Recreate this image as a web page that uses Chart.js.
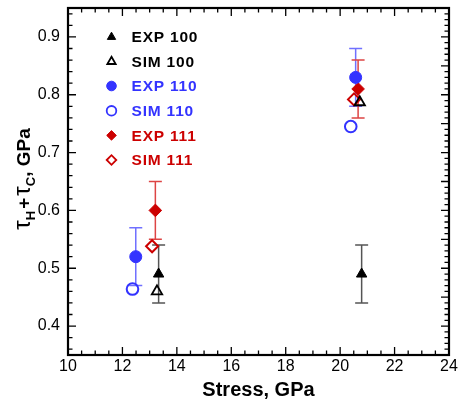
<!DOCTYPE html>
<html>
<head>
<meta charset="utf-8">
<script src="https://cdn.jsdelivr.net/npm/chart.js@4.4.0/dist/chart.umd.min.js"></script>
<style>
  html, body { margin: 0; padding: 0; background: #fff; }
  #wrap { width: 458px; height: 404px; position: relative; }
</style>
</head>
<body>
<div id="wrap"><canvas id="c" width="458" height="404"></canvas></div>
<script>
// Axis tick labels
const xTicks = [10, 12, 14, 16, 18, 20, 22, 24];
const yTicks = [0.4, 0.5, 0.6, 0.7, 0.8, 0.9];

// Series names
const seriesNames = ['EXP 100', 'SIM 100', 'EXP 110', 'SIM 110', 'EXP 111', 'SIM 111'];

// Stress (GPa) and tau_H + tau_C (GPa) per series
const exp100Stress = [13.33, 20.79];
const exp100Tau    = [0.49, 0.49];
const exp100Low    = [0.44, 0.44];
const exp100High   = [0.54, 0.54];

const sim100Stress = [13.27, 20.72];
const sim100Tau    = [0.46, 0.787];

const exp110Stress = [12.49, 20.57];
const exp110Tau    = [0.52, 0.83];
const exp110Low    = [0.47, 0.78];
const exp110High   = [0.57, 0.88];

const sim110Stress = [12.37, 20.39];
const sim110Tau    = [0.464, 0.745];

const exp111Stress = [13.21, 20.66];
const exp111Tau    = [0.60, 0.81];
const exp111Low    = [0.55, 0.76];
const exp111High   = [0.65, 0.86];

const sim111Stress = [13.09, 20.51];
const sim111Tau    = [0.538, 0.792];

const BLACK = '#000000';
const BLUE = '#3333ff';
const RED = '#cc0000';

function pts(xs, ys, lo, hi) {
  return xs.map((x, i) => {
    const p = { x: x, y: ys[i] };
    if (lo) { p.lo = lo[i]; p.hi = hi[i]; }
    return p;
  });
}

const TRANSPARENT = 'rgba(0,0,0,0)';

const datasets = [
  { label: seriesNames[0], data: pts(exp100Stress, exp100Tau, exp100Low, exp100High),
    pointStyle: 'triangle', pointRadius: 6, backgroundColor: BLACK, borderColor: BLACK, pointBorderWidth: 1,
    errColor: '#555555' },
  { label: seriesNames[1], data: pts(sim100Stress, sim100Tau),
    pointStyle: 'triangle', pointRadius: 6, backgroundColor: TRANSPARENT, borderColor: BLACK, pointBorderWidth: 1.8 },
  { label: seriesNames[2], data: pts(exp110Stress, exp110Tau, exp110Low, exp110High),
    pointStyle: 'circle', pointRadius: 6, backgroundColor: BLUE, borderColor: BLUE, pointBorderWidth: 1,
    errColor: '#7070ff' },
  { label: seriesNames[3], data: pts(sim110Stress, sim110Tau),
    pointStyle: 'circle', pointRadius: 5.8, backgroundColor: TRANSPARENT, borderColor: BLUE, pointBorderWidth: 2 },
  { label: seriesNames[4], data: pts(exp111Stress, exp111Tau, exp111Low, exp111High),
    pointStyle: 'rectRot', pointRadius: 6.3, backgroundColor: RED, borderColor: RED, pointBorderWidth: 1,
    errColor: '#dd4444' },
  { label: seriesNames[5], data: pts(sim111Stress, sim111Tau),
    pointStyle: 'rectRot', pointRadius: 6, backgroundColor: TRANSPARENT, borderColor: RED, pointBorderWidth: 2 }
];
datasets.forEach(d => { d.showLine = false; d.pointHoverRadius = d.pointRadius; });

// Vertical error bars with caps, drawn under the markers
const errorBars = {
  id: 'errorBars',
  beforeDatasetsDraw(chart) {
    const ctx = chart.ctx;
    const xs = chart.scales.x, ys = chart.scales.y;
    ctx.save();
    ctx.lineWidth = 1.5;
    chart.data.datasets.forEach(ds => {
      if (!ds.errColor) return;
      ctx.strokeStyle = ds.errColor;
      ds.data.forEach(p => {
        const px = xs.getPixelForValue(p.x);
        const y1 = ys.getPixelForValue(p.lo);
        const y2 = ys.getPixelForValue(p.hi);
        const cap = 6.5;
        ctx.beginPath();
        ctx.moveTo(px, y1); ctx.lineTo(px, y2);
        ctx.moveTo(px - cap, y1); ctx.lineTo(px + cap, y1);
        ctx.moveTo(px - cap, y2); ctx.lineTo(px + cap, y2);
        ctx.stroke();
      });
    });
    ctx.restore();
  }
};

// Box frame with inward ticks on all four sides
const frame = {
  id: 'frame',
  afterDatasetsDraw(chart) {
    const ctx = chart.ctx;
    const a = chart.chartArea;
    const xs = chart.scales.x, ys = chart.scales.y;
    const MAJ = 8, MIN = 4.5;
    const isMajor = (v, step) => Math.abs(v / step - Math.round(v / step)) < 1e-6;
    ctx.save();
    ctx.strokeStyle = '#000';
    ctx.lineWidth = 1.3;
    ctx.beginPath();
    // bottom and top: minor every 0.5, major every 2
    for (let i = 0; i <= 28; i++) {
      const v = 10 + i * 0.5;
      const px = xs.getPixelForValue(v);
      const len = isMajor(v, 2) ? MAJ : MIN;
      ctx.moveTo(px, a.bottom); ctx.lineTo(px, a.bottom - len);
      ctx.moveTo(px, a.top); ctx.lineTo(px, a.top + len);
    }
    // left: minor every 0.02, major every 0.1
    for (let i = 0; i <= 30; i++) {
      const v = 0.36 + i * 0.02;
      if (v > 0.951) break;
      const py = ys.getPixelForValue(v);
      const len = isMajor(v, 0.1) ? MAJ : MIN;
      ctx.moveTo(a.left, py); ctx.lineTo(a.left + len, py);
    }
    // right: minor every 0.01, major every 0.05
    for (let i = 0; i <= 60; i++) {
      const v = 0.35 + i * 0.01;
      const py = ys.getPixelForValue(v);
      const len = isMajor(v, 0.05) ? MAJ : MIN;
      ctx.moveTo(a.right, py); ctx.lineTo(a.right - len, py);
    }
    ctx.stroke();
    ctx.lineWidth = 2.2;
    ctx.strokeRect(a.left, a.top, a.right - a.left, a.bottom - a.top);
    ctx.restore();
  }
};

function drawMarker(ctx, style, r, bw, x, y) {
  if (Chart.helpers && Chart.helpers.drawPoint) {
    Chart.helpers.drawPoint(ctx, { pointStyle: style, radius: r, borderWidth: bw, rotation: 0 }, x, y);
    return;
  }
  ctx.beginPath();
  if (style === 'circle') ctx.arc(x, y, r, 0, Math.PI * 2);
  else if (style === 'triangle') {
    ctx.moveTo(x, y - r);
    ctx.lineTo(x + r * 0.866, y + r / 2);
    ctx.lineTo(x - r * 0.866, y + r / 2);
    ctx.closePath();
  } else {
    ctx.moveTo(x, y - r); ctx.lineTo(x + r, y); ctx.lineTo(x, y + r); ctx.lineTo(x - r, y); ctx.closePath();
  }
  ctx.fill();
  if (bw > 0) ctx.stroke();
}

// In-plot legend, axis titles
const annotations = {
  id: 'annotations',
  afterDraw(chart) {
    const ctx = chart.ctx;
    const a = chart.chartArea;
    ctx.save();

    // legend
    const rows = [37, 61.6, 86, 110.8, 135.4, 160];
    const textColors = [BLACK, BLACK, BLUE, BLUE, RED, RED];
    ctx.font = 'bold 15.5px "Liberation Sans", Arial, sans-serif';
    if ('letterSpacing' in ctx) ctx.letterSpacing = '0.8px';
    ctx.textBaseline = 'middle';
    ctx.textAlign = 'left';
    chart.data.datasets.forEach((ds, i) => {
      const y = rows[i];
      ctx.fillStyle = ds.backgroundColor;
      ctx.strokeStyle = ds.borderColor;
      ctx.lineWidth = ds.pointBorderWidth > 1 ? 1.8 : 1;
      drawMarker(ctx, ds.pointStyle, 4.8, ctx.lineWidth, 111.5, y);
      ctx.fillStyle = textColors[i];
      ctx.fillText(ds.label, 131.5, y + 1);
    });
    if ('letterSpacing' in ctx) ctx.letterSpacing = '0px';

    // x axis title
    ctx.fillStyle = '#000';
    ctx.font = 'bold 20px "Liberation Sans", Arial, sans-serif';
    ctx.textAlign = 'center';
    ctx.textBaseline = 'alphabetic';
    ctx.fillText('Stress, GPa', (a.left + a.right) / 2, 396);

    // y axis title: tau_H + tau_C, GPa
    const parts = [
      { t: '\u03C4', f: '24px "Liberation Sans", Arial, sans-serif', dy: 0 },
      { t: 'H', f: 'bold 13px "Liberation Sans", Arial, sans-serif', dy: 5 },
      { t: '+', f: 'bold 19px "Liberation Sans", Arial, sans-serif', dy: 0, pad: 2 },
      { t: '\u03C4', f: '24px "Liberation Sans", Arial, sans-serif', dy: 0 },
      { t: 'C', f: 'bold 13px "Liberation Sans", Arial, sans-serif', dy: 5 },
      { t: ', GPa', f: 'bold 19px "Liberation Sans", Arial, sans-serif', dy: 0 }
    ];
    let total = 0;
    parts.forEach(p => { ctx.font = p.f; p.w = ctx.measureText(p.t).width + 2 * (p.pad || 0); total += p.w; });
    ctx.translate(30, 179);
    ctx.rotate(-Math.PI / 2);
    ctx.textAlign = 'left';
    let cx = -total / 2;
    parts.forEach(p => {
      ctx.font = p.f;
      ctx.fillText(p.t, cx + (p.pad || 0), p.dy);
      cx += p.w;
    });
    ctx.restore();
  }
};

new Chart(document.getElementById('c'), {
  type: 'scatter',
  data: { datasets: datasets },
  options: {
    responsive: false,
    animation: false,
    events: [],
    layout: { padding: { top: 6, right: 9, left: 0, bottom: 0 } },
    plugins: { legend: { display: false }, tooltip: { enabled: false } },
    scales: {
      x: {
        type: 'linear', min: 10, max: 24,
        grid: { display: false, drawTicks: false, tickLength: 0 },
        border: { display: false },
        afterBuildTicks: s => { s.ticks = xTicks.map(v => ({ value: v })); },
        afterFit: s => { s.height = 49; s.paddingLeft = 0; s.paddingRight = 0; },
        ticks: {
          padding: 2, color: '#000', maxRotation: 0, autoSkip: false,
          font: { family: '"Liberation Sans", Arial, sans-serif', size: 16 },
          callback: v => String(v)
        }
      },
      y: {
        type: 'linear', min: 0.35, max: 0.95,
        grid: { display: false, drawTicks: false, tickLength: 0 },
        border: { display: false },
        afterBuildTicks: s => { s.ticks = yTicks.map(v => ({ value: v })); },
        afterFit: s => { s.width = 68; s.paddingTop = 0; s.paddingBottom = 0; },
        ticks: {
          padding: 8, color: '#000', autoSkip: false,
          font: { family: '"Liberation Sans", Arial, sans-serif', size: 16 },
          callback: v => Number(v).toFixed(1)
        }
      }
    }
  },
  plugins: [errorBars, frame, annotations]
});
</script>
</body>
</html>
